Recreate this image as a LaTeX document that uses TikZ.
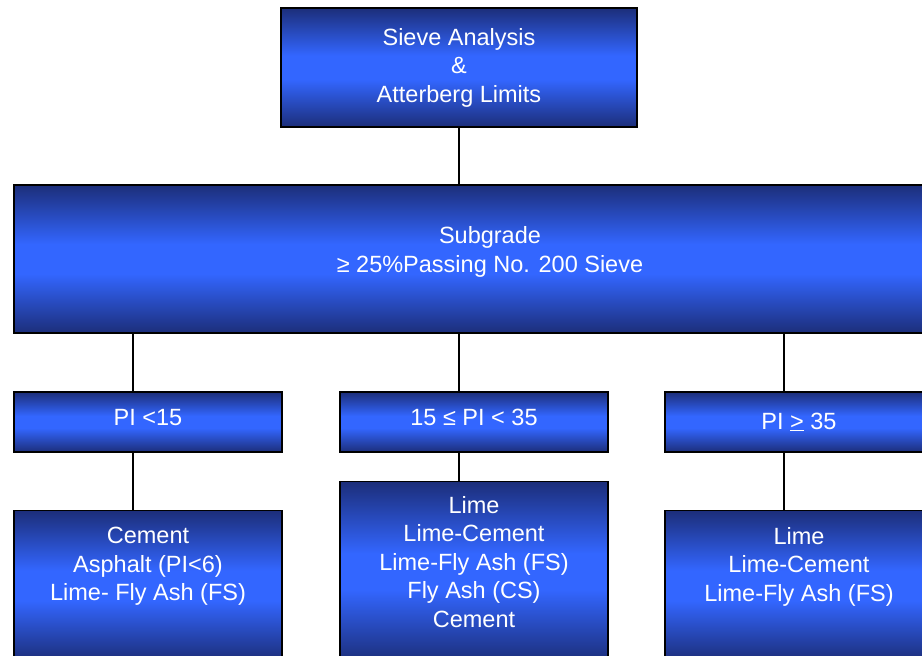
\documentclass[tikz,border=0pt]{standalone}
\usepackage{fontspec}
\setmainfont{Liberation Sans}
\usepackage{tikz}
\usetikzlibrary{positioning,calc}
\definecolor{boxnavy}{RGB}{28,46,122}
\definecolor{boxblue}{RGB}{51,102,255}
\pgfdeclareverticalshading{boxshade}{100bp}{color(0bp)=(boxnavy); color(25bp)=(boxnavy); color(45bp)=(boxblue); color(55bp)=(boxblue); color(75bp)=(boxnavy); color(100bp)=(boxnavy)}
\tikzset{
  box/.style={draw=black, line width=1.2pt, shading=boxshade,
    text=white, align=center, inner sep=0pt, minimum width=268pt, font=\fontsize{23.5}{28.5}\selectfont},
  txt/.style={text=white, align=center, inner sep=0pt, font=\fontsize{23.5}{28.5}\selectfont},
  link/.style={line width=1.5pt}
}

\begin{document}
\begin{tikzpicture}[x=1pt,y=-1pt]
            \useasboundingbox (0,0) rectangle (922,656);
            \clip (0,0) rectangle (922,656);
            \node[box, minimum width=356pt, minimum height=119pt] (sieve) at (459,67.5) {Sieve Analysis\\\&\\Atterberg Limits};
            \node[box, minimum width=952pt, minimum height=148pt, text depth=19pt] (sub) at (490,259) {Subgrade\\≥ 25\%Passing No. 200 Sieve};
            \node[box, minimum height=60pt, text depth=10pt] (pilow) at (148,422) {PI <15};
            \node[box, minimum height=60pt, text depth=10pt] (pimid) at (474,422) {15 ≤ PI < 35};
            \node[box, minimum height=60pt] (pihigh) at (799,422) {PI \underline{>} 35};
            \node[box, minimum height=150pt, anchor=north] (uselow) at (148,510) {};
            \node[box, minimum height=180pt, anchor=north] (usemid) at (474,481) {};
            \node[box, minimum height=150pt, anchor=north] (usehigh) at (799,510) {};
            \node[txt, below=17pt of uselow.north] (uselowtxt) {Cement\\Asphalt (PI<6)\\Lime- Fly Ash (FS)};
            \node[txt, below=15pt of usemid.north] (usemidtxt) {Lime\\Lime-Cement\\Lime-Fly Ash (FS)\\Fly Ash (CS)\\Cement};
            \node[txt, below=17pt of usehigh.north] (usehightxt) {Lime\\Lime-Cement\\Lime-Fly Ash (FS)};
            % connectors
            \draw[link] (sieve.south) -- (sieve.south |- sub.north);
            \draw[link] ([xshift=-15pt]pilow.north) -- ([xshift=-15pt]pilow.north |- sub.south);
            \draw[link] ([xshift=-15pt]pimid.north) -- ([xshift=-15pt]pimid.north |- sub.south);
            \draw[link] ([xshift=-15pt]pihigh.north) -- ([xshift=-15pt]pihigh.north |- sub.south);
            \draw[link] ([xshift=-15pt]pilow.south) -- ([xshift=-15pt]pilow.south |- uselow.north);
            \draw[link] ([xshift=-15pt]pimid.south) -- ([xshift=-15pt]pimid.south |- usemid.north);
            \draw[link] ([xshift=-15pt]pihigh.south) -- ([xshift=-15pt]pihigh.south |- usehigh.north);
\end{tikzpicture}
\end{document}
